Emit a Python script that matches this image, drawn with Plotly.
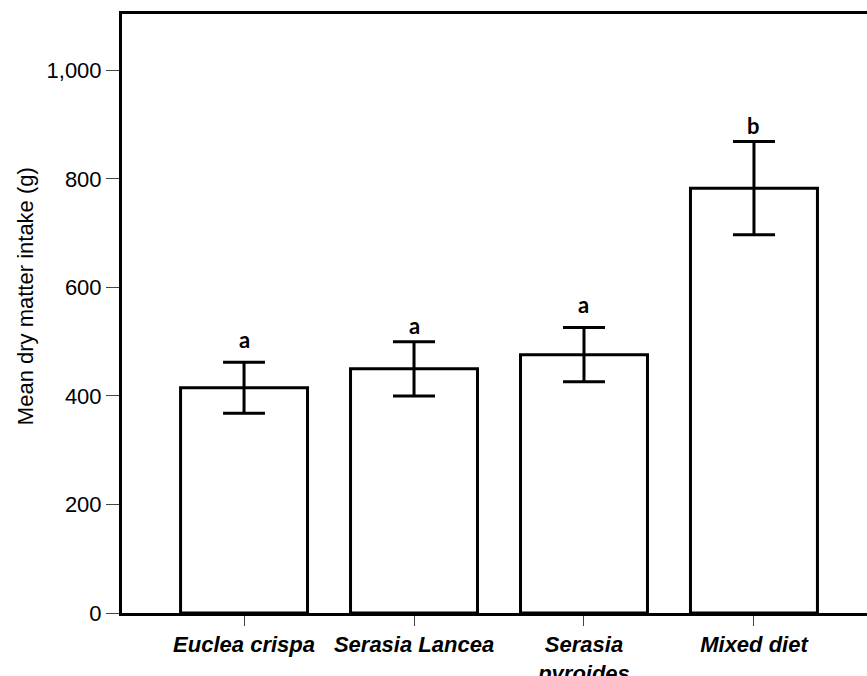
import plotly.graph_objects as go

categories = ["Euclea crispa", "Serasia Lancea", "Serasia<br>pyroides", "Mixed diet"]
means = [415, 450, 476, 783]
errors = [47, 50, 50, 86]
letters = ["a", "a", "a", "b"]
y_ticks = [0, 200, 400, 600, 800, 1000]

# pixel offsets of the significance letters above the whisker caps (style)
letter_shift = [23, 16, 23, 16]

fig = go.Figure()
fig.add_trace(go.Bar(
    x=list(range(len(categories))), y=means, width=0.747,
    marker=dict(color="white", line=dict(color="black", width=3)),
    error_y=dict(type="data", array=errors, visible=True, color="black", thickness=3, width=21),
    showlegend=False, hoverinfo="skip",
))
for i, (m, e, l) in enumerate(zip(means, errors, letters)):
    fig.add_annotation(x=i, y=m + e, text="<b>" + l + "</b>", showarrow=False,
                       yshift=letter_shift[i], font=dict(family="Lato", size=22, color="black"))

fig.add_annotation(xref="paper", yref="paper", x=0, y=0.529, xshift=-97, textangle=-90,
                   text="Mean dry matter intake (g)", showarrow=False,
                   font=dict(size=22, color="black"), xanchor="center", yanchor="middle")

fig.update_layout(
    width=867, height=676,
    margin=dict(l=122, r=0, t=14, b=63, autoexpand=False),
    plot_bgcolor="white", paper_bgcolor="white",
    font=dict(family="Liberation Sans, Arial", size=22, color="black"),
)
fig.update_xaxes(
    range=[-0.718, 3.665], tickmode="array", tickvals=list(range(len(categories))),
    ticktext=["<b><i>" + c + "</i></b>" for c in categories],
    showline=True, linecolor="black", linewidth=3, mirror=True,
    ticks="outside", ticklen=10, tickcolor="#444", tickwidth=1,
    showgrid=False, zeroline=False, tickfont=dict(size=22), automargin=False,
)
fig.update_yaxes(
    range=[0, 1104], tickmode="array", tickvals=y_ticks, tickformat=",d",
    showline=True, linecolor="black", linewidth=3, mirror=False,
    ticks="outside", ticklen=13, tickcolor="#444", tickwidth=1,
    showgrid=False, zeroline=False, tickfont=dict(size=22), automargin=False,
)
fig.write_html("out.html", config={"displayModeBar": False},
               post_script="document.body.style.margin='0';document.body.style.overflow='hidden';")
